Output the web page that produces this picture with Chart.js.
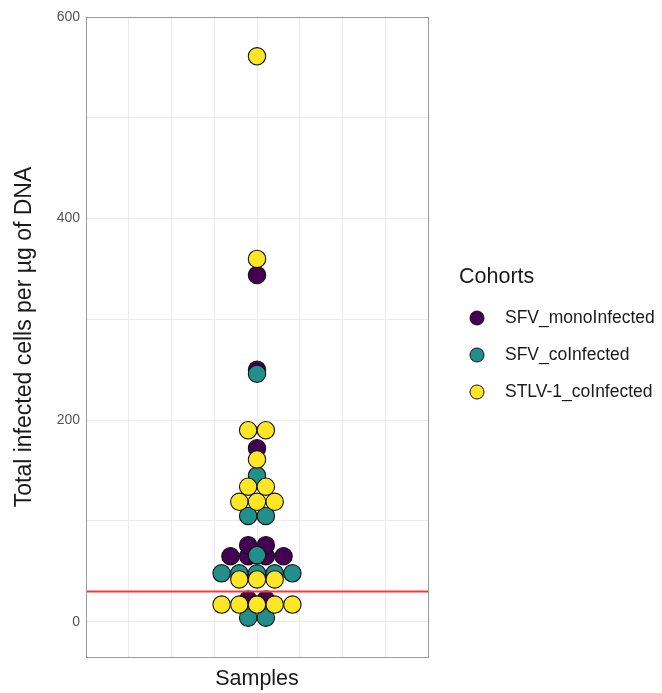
<!DOCTYPE html>
<html>
<head>
<meta charset="utf-8">
<script src="https://cdn.jsdelivr.net/npm/chart.js@4.4.0/dist/chart.umd.min.js"></script>
<style>
  body { margin: 0; background: #fff; }
  #wrap { width: 662px; height: 693px; }
</style>
</head>
<body>
<div id="wrap"><canvas id="swarm"></canvas></div>
<script>
// data
const cohorts = ['SFV_monoInfected', 'SFV_coInfected', 'STLV-1_coInfected'];
const monoValues = [344, 250, 172, 76, 76, 65, 65, 65, 65, 22, 22];
const coValues = [246, 145, 105, 105, 66, 48, 48, 48, 48, 48, 4, 4];
const stlvValues = [561, 360, 190, 190, 161, 134, 134, 119, 119, 119, 42, 42, 42, 17, 17, 17, 17, 17];
const yTicks = [0, 200, 400, 600];
const threshold = 30;

const colors = ['#440154', '#21908C', '#FDE725'];
const FONT = '"Liberation Sans", Arial, sans-serif';
const DOT_STEP = 0.414;   // one dot width in x-units
const ROW_TOL = 8;        // values this close share a row

// simple "center" beeswarm: group close values into rows, spread each row around 0
function swarm(values) {
  const sorted = values.slice().sort((a, b) => a - b);
  const rows = [];
  sorted.forEach(v => {
    const row = rows[rows.length - 1];
    if (row && v - row[0] <= ROW_TOL) row.push(v);
    else rows.push([v]);
  });
  const pts = [];
  rows.forEach(row => {
    row.forEach((v, i) => pts.push({ x: (i - (row.length - 1) / 2) * DOT_STEP, y: v }));
  });
  return pts;
}

const seriesValues = [monoValues, coValues, stlvValues];

const datasets = seriesValues.map((vals, i) => ({
  type: 'scatter',
  label: cohorts[i],
  data: swarm(vals),
  backgroundColor: colors[i],
  borderColor: '#111',
  borderWidth: 1.1,
  pointRadius: 8.7,
  pointHoverRadius: 8.7,
  order: 3 - i
}));

datasets.push({
  type: 'line',
  label: 'threshold',
  data: [{ x: -4, y: threshold }, { x: 4, y: threshold }],
  borderColor: '#f03c3c',
  borderWidth: 2,
  pointRadius: 0,
  order: 0
});

// panel frame
const frame = {
  id: 'frame',
  afterDraw(chart) {
    const { ctx, chartArea: a } = chart;
    ctx.save();
    ctx.strokeStyle = '#9a9a9a';
    ctx.lineWidth = 1;
    ctx.strokeRect(a.left + 0.5, a.top + 0.5, a.right - a.left, a.bottom - a.top);
    ctx.restore();
  }
};

// ggplot-like legend on the right
const cohortLegend = {
  id: 'cohortLegend',
  afterDraw(chart) {
    const { ctx, chartArea: a } = chart;
    const mid = (a.top + a.bottom) / 2;
    ctx.save();
    ctx.textBaseline = 'middle';
    ctx.textAlign = 'left';
    ctx.fillStyle = '#1a1a1a';
    ctx.font = '21.5px ' + FONT;
    ctx.fillText('Cohorts', a.right + 31, mid - 60);
    ctx.font = '17.5px ' + FONT;
    cohorts.forEach((name, i) => {
      const y = mid - 19 + i * 37;
      ctx.beginPath();
      ctx.arc(a.right + 49, y, 7, 0, Math.PI * 2);
      ctx.fillStyle = colors[i];
      ctx.fill();
      ctx.strokeStyle = '#111';
      ctx.lineWidth = 1;
      ctx.stroke();
      ctx.fillStyle = '#1a1a1a';
      ctx.fillText(name, a.right + 77, y);
    });
    ctx.restore();
  }
};

new Chart(document.getElementById('swarm'), {
  data: { datasets },
  options: {
    responsive: true,
    maintainAspectRatio: false,
    animation: false,
    layout: { padding: { top: 17, right: 234, left: 0, bottom: 0 } },
    plugins: {
      legend: { display: false },
      tooltip: { enabled: false }
    },
    scales: {
      x: {
        type: 'linear',
        min: -4,
        max: 4,
        ticks: { stepSize: 1, display: false },
        grid: { color: '#ebebeb', drawTicks: false },
        border: { display: false },
        title: {
          display: true,
          text: 'Samples',
          color: '#1a1a1a',
          font: { family: FONT, size: 21.5 },
          padding: { top: 0, bottom: 1 }
        },
        afterFit(scale) { scale.height = 36; }
      },
      y: {
        min: -35,
        max: 600,
        afterBuildTicks(scale) {
          const t = [];
          for (let v = 0; v <= 600; v += 100) t.push({ value: v });
          scale.ticks = t;
        },
        ticks: {
          color: '#555',
          padding: 6,
          font: { family: FONT, size: 14 },
          callback: v => yTicks.includes(v) ? v : ''
        },
        grid: { color: '#ebebeb', drawTicks: false },
        border: { display: false },
        title: {
          display: true,
          text: 'Total infected cells per µg of DNA',
          color: '#1a1a1a',
          font: { family: FONT, size: 23 },
          padding: { top: 11, bottom: 0 }
        },
        afterFit(scale) { scale.width = 86; }
      }
    }
  },
  plugins: [frame, cohortLegend]
});
</script>
</body>
</html>
